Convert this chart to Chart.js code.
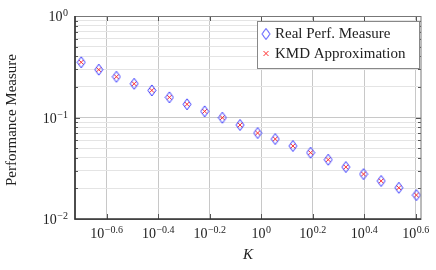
<!DOCTYPE html>
<html>
<head>
<meta charset="utf-8">
<script src="https://cdn.jsdelivr.net/npm/chart.js@4.4.1/dist/chart.umd.min.js"></script>
<style>
  html, body { margin: 0; padding: 0; background: #fff; }
  #wrap { width: 436px; height: 270px; }
</style>
</head>
<body>
<div id="wrap"><canvas id="perfChart" width="436" height="270"></canvas></div>
<script>
// ---- data ----
const kValues = [0.2, 0.234, 0.274, 0.321, 0.376, 0.44, 0.515, 0.603, 0.706, 0.827,
                 0.968, 1.133, 1.327, 1.554, 1.819, 2.13, 2.494, 2.92, 3.419, 4.0];
const realPerf = [0.350, 0.296, 0.252, 0.215, 0.185, 0.158, 0.135, 0.115, 0.0995, 0.0844,
                  0.0703, 0.0614, 0.0524, 0.045, 0.0384, 0.0325, 0.0277, 0.0237, 0.0203, 0.0172];
const kmdApprox = [0.350, 0.296, 0.252, 0.215, 0.185, 0.158, 0.135, 0.115, 0.0995, 0.0844,
                   0.0703, 0.0614, 0.0524, 0.045, 0.0384, 0.0325, 0.0277, 0.0237, 0.0203, 0.0172];

const xTickExps = [-0.6, -0.4, -0.2, 0, 0.2, 0.4, 0.6];
const yTickExps = [-2, -1, 0];
const seriesNames = ["Real Perf. Measure", "KMD Approximation"];

const serif = "'Liberation Serif', 'Times New Roman', serif";

// taller-than-wide diamond like pgfplots
function diamondImg(w, h, color) {
  const c = document.createElement("canvas");
  c.width = w + 2; c.height = h + 2;
  const g = c.getContext("2d");
  g.strokeStyle = color; g.lineWidth = 1;
  g.beginPath();
  g.moveTo(c.width / 2, 1);
  g.lineTo(c.width - 1, c.height / 2);
  g.lineTo(c.width / 2, c.height - 1);
  g.lineTo(1, c.height / 2);
  g.closePath();
  g.stroke();
  return c;
}
const blueDiamond = diamondImg(8, 11, "#3838ff");

const pts = (ys) => kValues.map((k, i) => ({ x: k, y: ys[i] }));

const xTickVals = xTickExps.map((e) => Math.pow(10, e));
const yTickVals = [];
yTickExps.forEach((e) => {
  if (e === 0) { yTickVals.push(1); return; }
  for (let m = 1; m <= 9; m++) yTickVals.push(m * Math.pow(10, e));
});
const isDecade = (v) => Math.abs(Math.log10(v) - Math.round(Math.log10(v))) < 1e-6;

function drawPow(ctx, exp, x, y, align) {
  const base = "10";
  ctx.font = "14px " + serif;
  const wb = ctx.measureText(base).width;
  ctx.font = "10px " + serif;
  const we = ctx.measureText(exp).width;
  const total = wb + we + 0.5;
  let x0 = align === "right" ? x - total : x - total / 2;
  ctx.textAlign = "left";
  ctx.textBaseline = "alphabetic";
  ctx.fillStyle = "#222";
  ctx.font = "14px " + serif;
  ctx.fillText(base, x0, y);
  ctx.font = "10px " + serif;
  ctx.fillText(exp, x0 + wb + 0.5, y - 5);
}

const decorPlugin = {
  id: "decor",
  afterDraw(chart) {
    const ctx = chart.ctx;
    const a = chart.chartArea;
    const xs = chart.scales.x, ys = chart.scales.y;
    ctx.save();

    // inward tick marks on all four sides
    ctx.strokeStyle = "#555";
    ctx.lineWidth = 1;
    xTickVals.forEach((v) => {
      const px = Math.round(xs.getPixelForValue(v)) + 0.5;
      ctx.beginPath();
      ctx.moveTo(px, a.bottom); ctx.lineTo(px, a.bottom - 5);
      ctx.moveTo(px, a.top); ctx.lineTo(px, a.top + 5);
      ctx.stroke();
    });
    yTickVals.forEach((v) => {
      const py = Math.round(ys.getPixelForValue(v)) + 0.5;
      const len = isDecade(v) ? 5 : 3;
      ctx.beginPath();
      ctx.moveTo(a.left, py); ctx.lineTo(a.left + len, py);
      ctx.moveTo(a.right, py); ctx.lineTo(a.right - len, py);
      ctx.stroke();
    });

    // frame
    ctx.strokeStyle = "#777";
    ctx.lineWidth = 1;
    ctx.strokeRect(a.left, a.top + 0.5, a.right - a.left, a.bottom - a.top);
    ctx.strokeStyle = "#333";
    ctx.lineWidth = 1.6;
    ctx.beginPath();
    ctx.moveTo(a.left, a.top);
    ctx.lineTo(a.left, a.bottom);
    ctx.lineTo(a.right, a.bottom);
    ctx.stroke();

    // tick labels
    xTickExps.forEach((e, i) => {
      const px = xs.getPixelForValue(xTickVals[i]);
      const s = e === 0 ? "0" : (e < 0 ? "\u2212" : "") + Math.abs(e).toString();
      drawPow(ctx, s, px, a.bottom + 19, "center");
    });
    yTickExps.forEach((e) => {
      const py = ys.getPixelForValue(Math.pow(10, e));
      const s = e === 0 ? "0" : "\u2212" + Math.abs(e);
      drawPow(ctx, s, 68, py + 5, "right");
    });

    // axis titles
    ctx.fillStyle = "#222";
    ctx.font = "italic 15px " + serif;
    ctx.textAlign = "center";
    ctx.textBaseline = "middle";
    ctx.fillText("K", 248, 255);
    ctx.save();
    ctx.translate(12, 120);
    ctx.rotate(-Math.PI / 2);
    ctx.font = "15px " + serif;
    ctx.fillText("Performance Measure", 0, 0);
    ctx.restore();

    // legend box
    const lx = 257, ly = 21, lw = 162, lh = 47;
    ctx.fillStyle = "#fff";
    ctx.fillRect(lx, ly, lw, lh);
    ctx.strokeStyle = "#888";
    ctx.lineWidth = 1;
    ctx.strokeRect(lx + 0.5, ly + 0.5, lw, lh);
    ctx.drawImage(blueDiamond, 266 - blueDiamond.width / 2, 34 - blueDiamond.height / 2);
    ctx.strokeStyle = "#ff3030";
    ctx.lineWidth = 1;
    ctx.beginPath();
    ctx.moveTo(263.5, 51); ctx.lineTo(268.5, 56);
    ctx.moveTo(268.5, 51); ctx.lineTo(263.5, 56);
    ctx.stroke();
    ctx.fillStyle = "#222";
    ctx.font = "15px " + serif;
    ctx.textAlign = "left";
    ctx.textBaseline = "middle";
    ctx.fillText(seriesNames[0], 275, 34);
    ctx.fillText(seriesNames[1], 275, 54);

    ctx.restore();
  }
};

new Chart(document.getElementById("perfChart"), {
  type: "scatter",
  data: {
    datasets: [
      {
        label: seriesNames[0],
        data: pts(realPerf),
        pointStyle: blueDiamond,
        pointRadius: 5,
        borderColor: "#3838ff",
        backgroundColor: "rgba(0,0,0,0)",
      },
      {
        label: seriesNames[1],
        data: pts(kmdApprox),
        pointStyle: "crossRot",
        pointRadius: 3.2,
        borderWidth: 1,
        borderColor: "#ff3030",
        backgroundColor: "#ff3030",
      },
    ],
  },
  options: {
    responsive: false,
    animation: false,
    layout: { padding: { left: 75, right: 15, top: 16, bottom: 51 } },
    plugins: { legend: { display: false }, tooltip: { enabled: false } },
    scales: {
      x: {
        type: "logarithmic",
        min: Math.pow(10, -0.723),
        max: Math.pow(10, 0.62),
        afterBuildTicks: (s) => { s.ticks = xTickVals.map((v) => ({ value: v })); },
        ticks: { display: false },
        border: { display: false },
        grid: { drawTicks: false, color: "#c8c8c8", lineWidth: 1 },
      },
      y: {
        type: "logarithmic",
        min: 0.01,
        max: 1,
        afterBuildTicks: (s) => { s.ticks = yTickVals.map((v) => ({ value: v })); },
        ticks: { display: false },
        border: { display: false },
        grid: {
          drawTicks: false,
          lineWidth: 1,
          color: (c) => (c.tick && isDecade(c.tick.value) ? "#c8c8c8" : "#e4e4e4"),
        },
      },
    },
  },
  plugins: [decorPlugin],
});
</script>
</body>
</html>
